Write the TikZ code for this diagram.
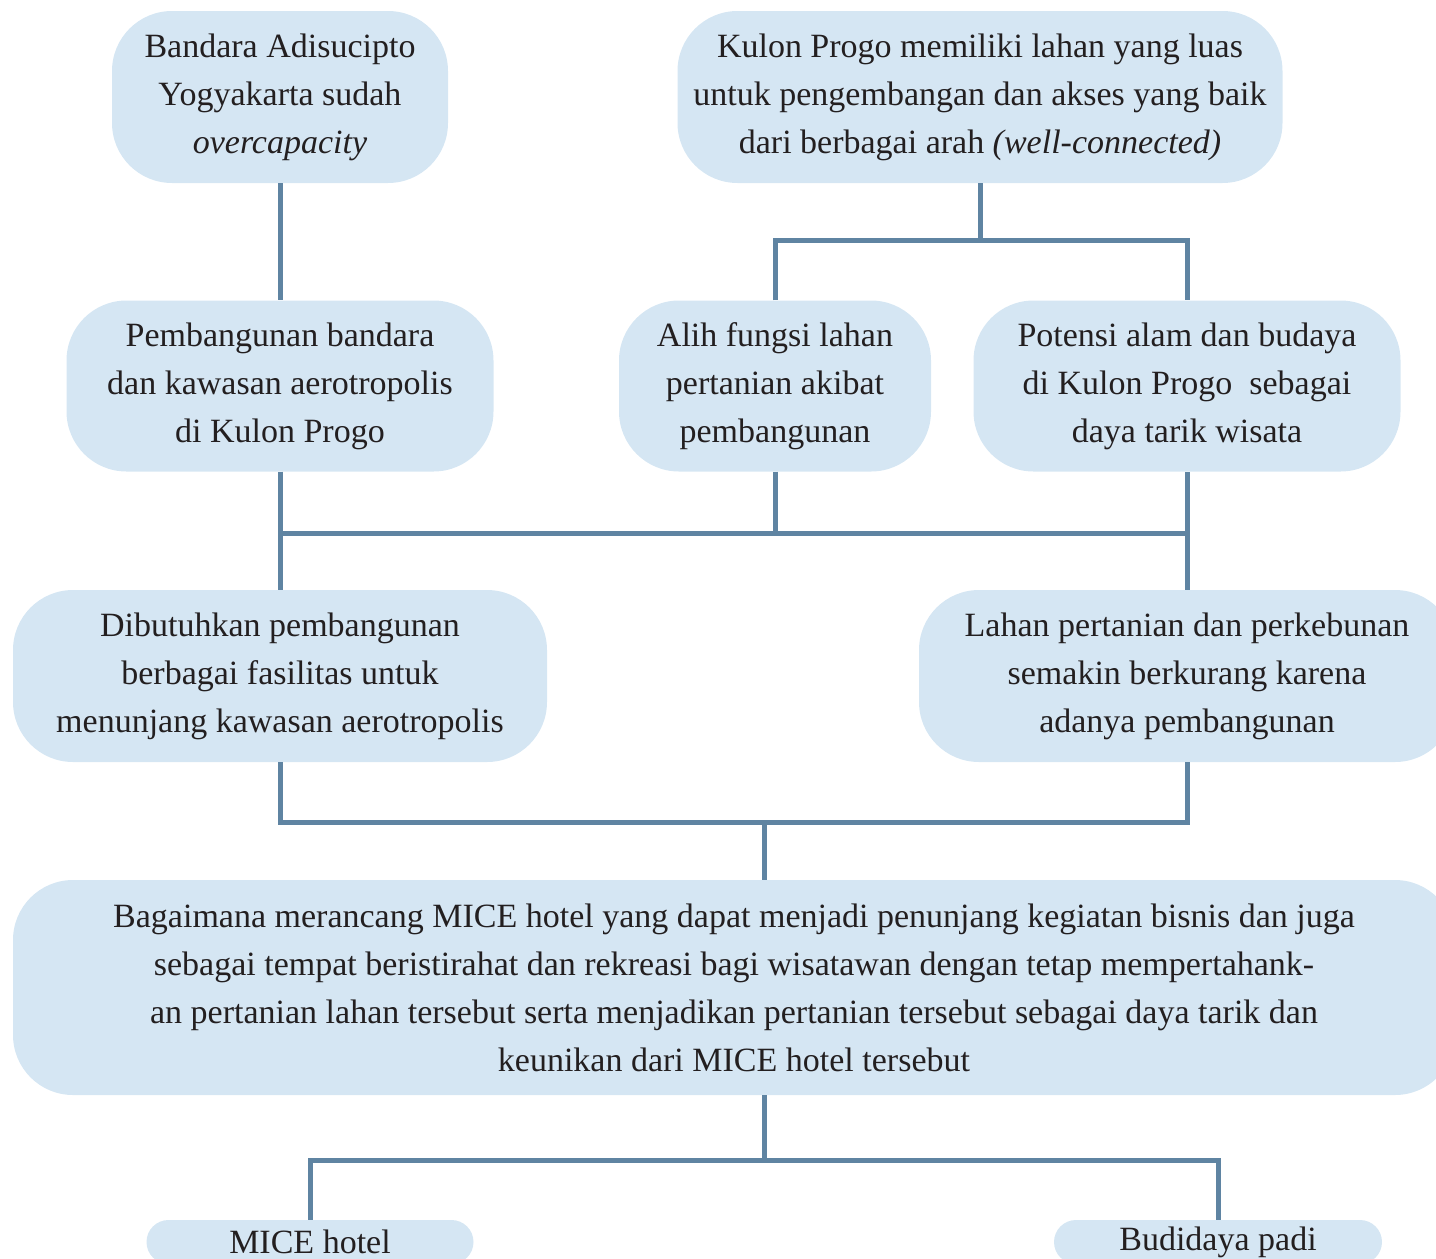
\documentclass[tikz,border=0pt]{standalone}
\usepackage{fontspec}
\setmainfont{Liberation Serif}
\definecolor{boxfill}{HTML}{D5E6F3}
\definecolor{linkcol}{HTML}{5F84A2}
\definecolor{txt}{HTML}{231F20}
\begin{document}
\begin{tikzpicture}[x=1pt,y=-1pt,
  box/.style={rectangle, rounded corners=60pt, fill=boxfill, text=txt,
    align=center, inner sep=0pt, font=\fontsize{34}{48}\selectfont},
  pill/.style={box, rounded corners=22pt},
  link/.style={draw=linkcol, line width=5pt}]
\useasboundingbox (0,0) rectangle (1436,1259);
\clip (0,0) rectangle (1436,1259);

% first row
\node[box, minimum width=336pt, minimum height=172pt] (n1) at (280,97)
  {Bandara Adisucipto\\Yogyakarta sudah\\\textit{overcapacity}};
\node[box, minimum width=605pt, minimum height=172pt] (n2) at (980,97)
  {Kulon Progo memiliki lahan yang luas\\untuk pengembangan dan akses yang baik\\dari berbagai arah \textit{(well-connected)}};

% second row
\node[box, minimum width=427pt, minimum height=171pt] (n3) at (280,386)
  {Pembangunan bandara\\dan kawasan aerotropolis\\di Kulon Progo};
\node[box, minimum width=312pt, minimum height=171pt] (n4) at (775,386)
  {Alih fungsi lahan\\pertanian akibat\\pembangunan};
\node[box, minimum width=427pt, minimum height=171pt] (n5) at (1187,386)
  {Potensi alam dan budaya\\di Kulon Progo\ \ sebagai\\daya tarik wisata};

% third row
\node[box, minimum width=534pt, minimum height=172pt] (n6) at (280,676)
  {Dibutuhkan pembangunan\\berbagai fasilitas untuk\\menunjang kawasan aerotropolis};
\node[box, minimum width=536pt, minimum height=172pt] (n7) at (1187,676)
  {Lahan pertanian dan perkebunan\\semakin berkurang karena\\adanya pembangunan};

% research question
\node[box, minimum width=1442pt, minimum height=215pt] (n8) at (734,987.5)
  {Bagaimana merancang MICE hotel yang dapat menjadi penunjang kegiatan bisnis dan juga\\
   sebagai tempat beristirahat dan rekreasi bagi wisatawan dengan tetap mempertahank-\\
   an pertanian lahan tersebut serta menjadikan pertanian tersebut sebagai daya tarik dan\\
   keunikan dari MICE hotel tersebut};

% outcomes
\node[pill, minimum width=327pt, minimum height=44pt] (n9) at (310,1242) {MICE hotel};
\node[pill, minimum width=328pt, minimum height=44pt] (n10) at (1218,1242) {Budidaya padi};

% junction levels
\coordinate (j1) at (0,240);
\coordinate (j2) at (0,533);
\coordinate (j3) at (0,822);
\coordinate (j4) at (0,1160);
\coordinate (m) at (764,822);

% connectors
\draw[link] (n1) -- (n3);
\draw[link] (n2.south) -- (n2.south |- j1);
\draw[link] (n4.north) -- (n4.north |- j1) -- (n5.north |- j1) -- (n5.north);

\draw[link] (n3.south) -- (n3.south |- j2) -- (n5.south |- j2) -- (n5.south);
\draw[link] (n4.south) -- (n4.south |- j2);
\draw[link] (n3.south |- j2) -- (n6.north);
\draw[link] (n5.south |- j2) -- (n7.north);

\draw[link] (n6.south) -- (n6.south |- j3) -- (n7.south |- j3) -- (n7.south);
\draw[link] (m) -- (m |- n8.north);

\draw[link] (m |- n8.south) -- (m |- j4);
\draw[link] (n9.north) -- (n9.north |- j4) -- (n10.north |- j4) -- (n10.north);
\end{tikzpicture}
\end{document}
